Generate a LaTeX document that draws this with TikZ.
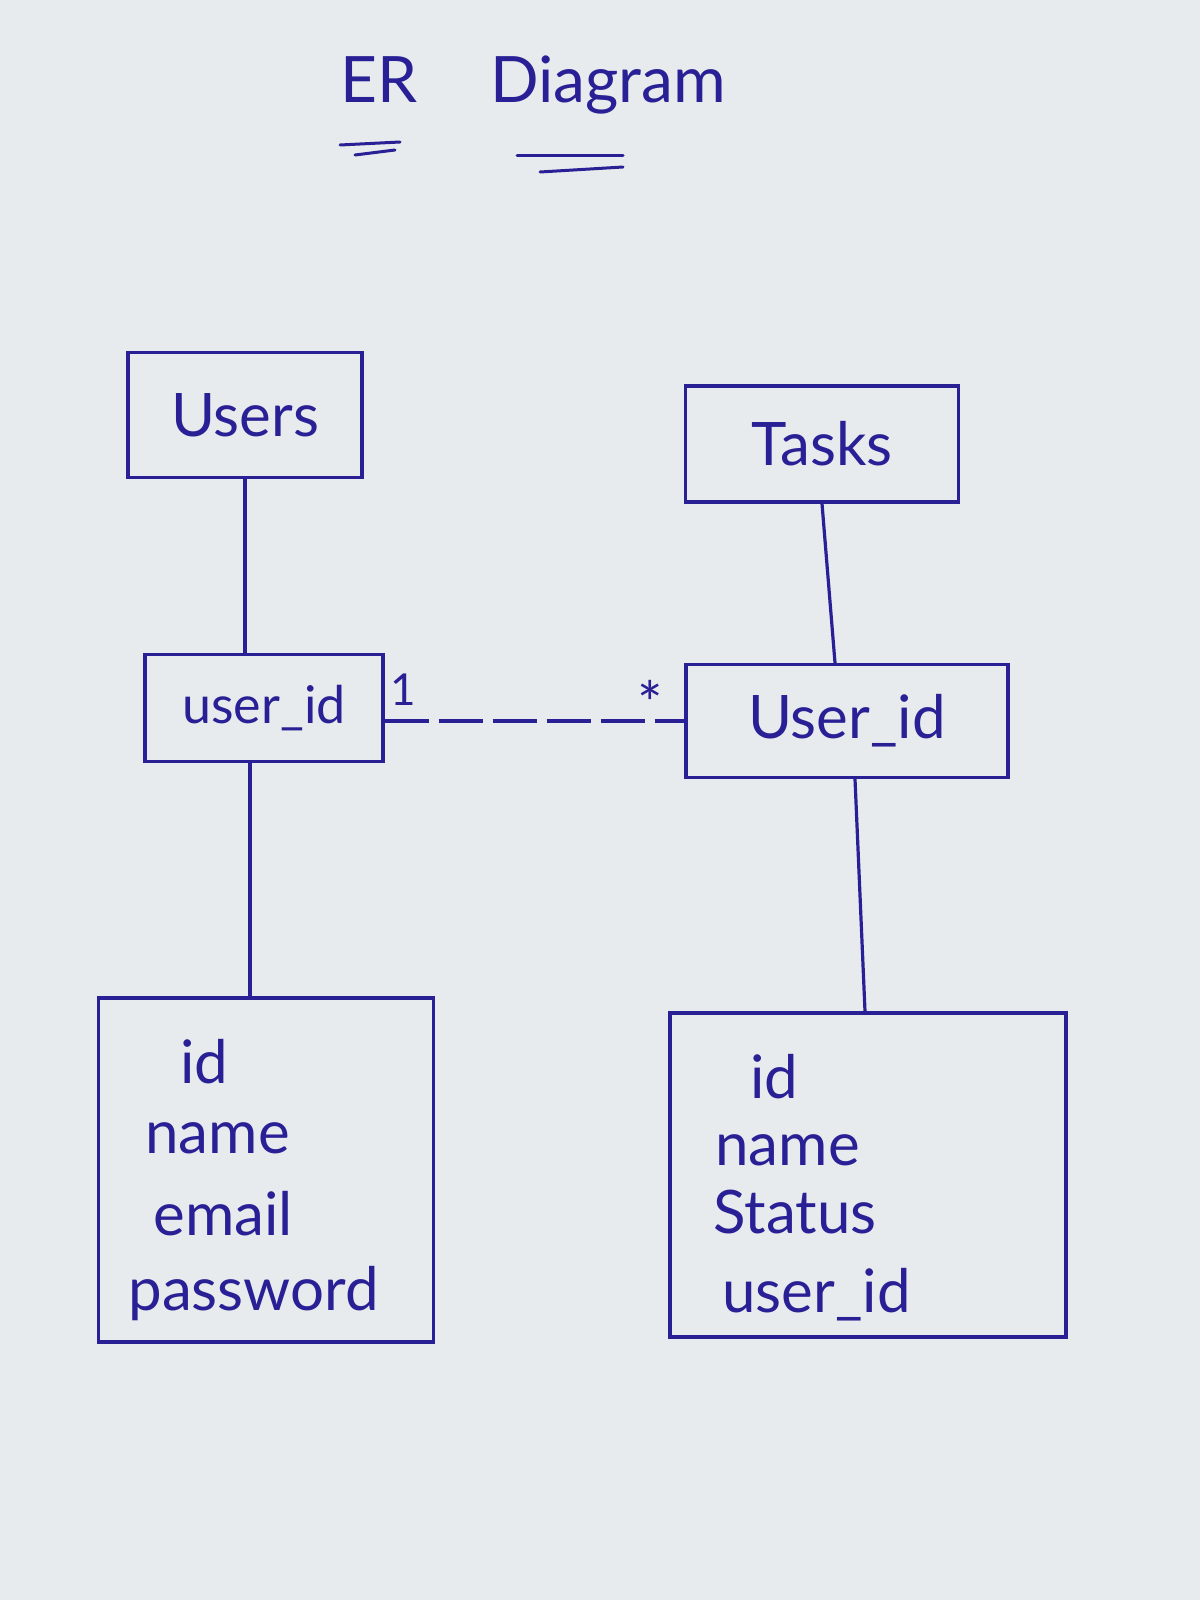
\documentclass[tikz,border=0pt]{standalone}
\usepackage{fontspec}
\setmainfont{Lato}
\definecolor{ink}{RGB}{42,32,150}
\definecolor{paper}{RGB}{232,235,238}
\begin{document}
\begin{tikzpicture}[x=0.5pt,y=-0.5pt,
  ent/.style={draw=ink, line width=1.6pt, rectangle, inner sep=0pt, text=ink,
    font=\fontsize{30}{36}\selectfont},
  attr/.style={text=ink, anchor=base west, inner sep=0pt, font=\fontsize{30}{36}\selectfont},
  mult/.style={text=ink, inner sep=0pt, font=\fontsize{22}{26}\selectfont},
  link/.style={draw=ink, line width=1.6pt},
  uline/.style={draw=ink, line width=1.5pt, line cap=round}]
\fill[paper] (0,0) rectangle (1200,1600);
\useasboundingbox (0,0) rectangle (1200,1600);

% title
\node[attr, font=\fontsize{32}{38}\selectfont] (er) at (340,103) {ER};
\node[attr, font=\fontsize{32}{38}\selectfont] (dia) at (490,103) {Diagram};
\draw[uline] (340,145) -- (400,142);
\draw[uline] (355,155) -- (395,150);
\draw[uline] (517,155) -- (623,155);
\draw[uline] (540,172) -- (623,167);

% entity boxes
\node[ent, minimum width=117pt, minimum height=62.5pt] (users) at (245,415) {Users};
\node[ent, minimum width=136.5pt, minimum height=58pt] (tasks) at (822,444) {Tasks};
\node[ent, minimum width=119pt, minimum height=53.5pt, font=\fontsize{26}{32}\selectfont] (uid1) at (264,708) {user\_id};
\node[ent, minimum width=161pt, minimum height=56.5pt] (uid2) at (847,721) {User\_id};
\node[ent, minimum width=167.5pt, minimum height=172pt] (attr1) at (266,1170) {};
\node[ent, minimum width=198pt, minimum height=162pt] (attr2) at (868,1175) {};

% attributes
\node[attr] (a1id) at (180,1083) {id};
\node[attr] (a1name) at (145,1153) {name};
\node[attr] (a1mail) at (153,1235) {email};
\node[attr] (a1pw) at (128,1310) {password};
\node[attr] (a2id) at (750,1098) {id};
\node[attr] (a2name) at (715,1165) {name};
\node[attr] (a2st) at (713,1233) {Status};
\node[attr] (a2uid) at (722,1312) {user\_id};

% connectors
\draw[link] (users.south) -- (users.south |- uid1.north);
\draw[link] ([xshift=-7pt]uid1.south) -- ([xshift=-7pt]uid1.south |- attr1.north);
\draw[link] (tasks.south) -- ([xshift=-6pt]uid2.north);
\draw[link] ([xshift=4pt]uid2.south) -- ([xshift=-1.5pt]attr2.north);
\draw[link, dash pattern=on 22pt off 5pt] (uid1.east |- uid2.west) -- (uid2.west);

% multiplicities
\node[mult] (m1) at (403,690) {1};
\node[mult, anchor=north, font=\fontsize{30}{36}\selectfont] (m2) at (650,680) {*};
\end{tikzpicture}
\end{document}
